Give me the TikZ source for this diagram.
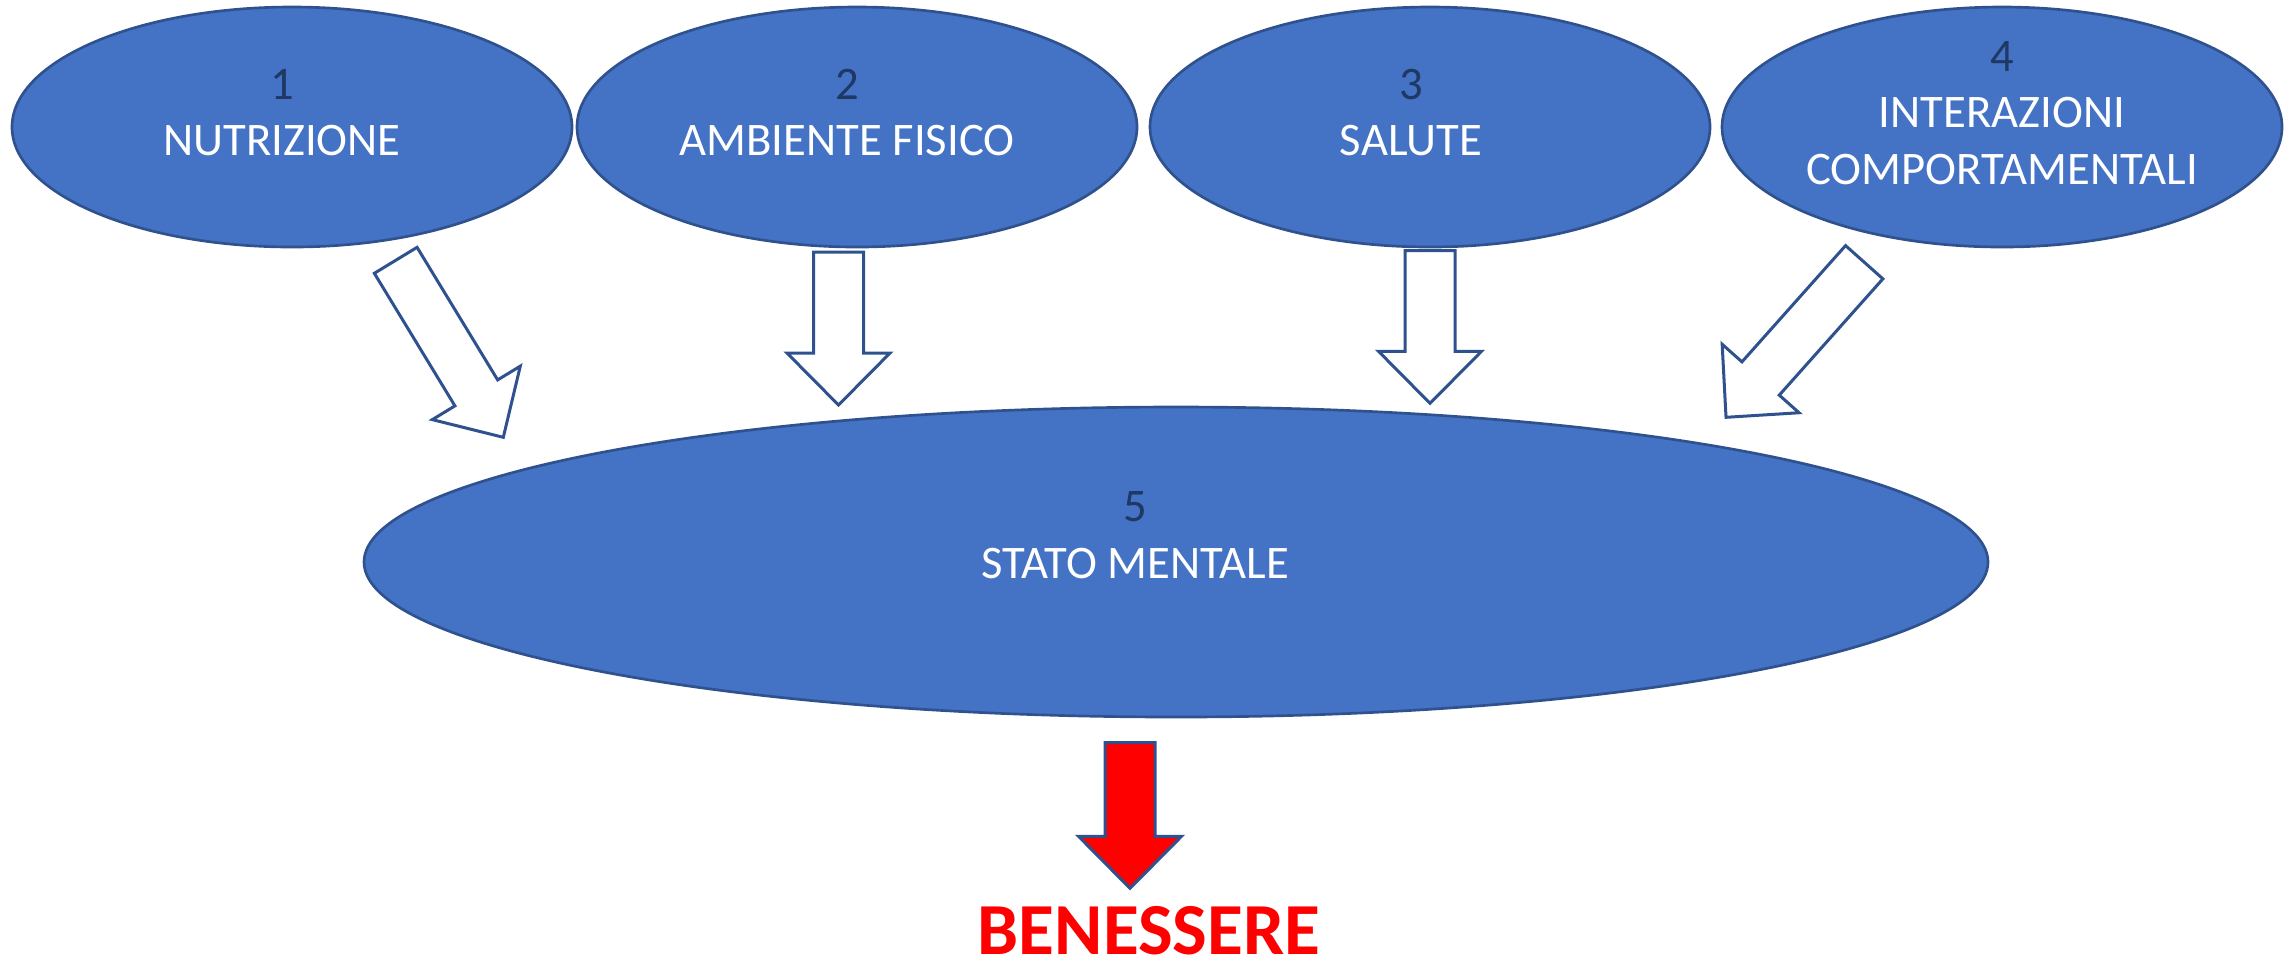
\documentclass[tikz,border=0pt]{standalone}
\usepackage{fontspec}
\setmainfont{Carlito}
\usetikzlibrary{shapes.geometric,calc}

\newcommand{\blockarrow}[3][white]{%
  \coordinate (head) at ($(#3)!15.6pt!(#2)$);
  \draw[block, fill=#1] ($(#2)!7.5pt!90:(#3)$) -- ($(head)!7.5pt!90:(#3)$)
    -- ($(head)!15.45pt!90:(#3)$) -- (#3) -- ($(head)!15.45pt!-90:(#3)$)
    -- ($(head)!7.5pt!-90:(#3)$) -- ($(#2)!7.5pt!-90:(#3)$) -- cycle;
}

\begin{document}
\begin{tikzpicture}[x=0.3pt, y=-0.3pt]
  \definecolor{ovalblue}{HTML}{4472C4}
  \definecolor{edgeblue}{HTML}{2F528F}
  \definecolor{numblue}{HTML}{1F3864}
  \tikzstyle{oval}=[ellipse, draw=edgeblue, fill=ovalblue, line width=0.8pt,
    inner sep=0pt, minimum width=168pt, minimum height=72pt]
  \tikzstyle{ovaltext}=[text=white, align=center, font=\fontsize{14}{17}\selectfont]
  \tikzstyle{block}=[draw=edgeblue, line width=0.9pt, line join=miter]

  \useasboundingbox (0,0) rectangle (2295,961);

  % the four factors
  \node[oval] (nutr) at (292,127) {};
  \node[oval] (amb) at (857,127) {};
  \node[oval] (sal) at (1430,127) {};
  \node[oval] (inter) at (2002,127) {};
  \node[ovaltext] (nutr-t) at (282,112.5) {\textcolor{numblue}{1}\\NUTRIZIONE};
  \node[ovaltext] (amb-t) at (847,112.5) {\textcolor{numblue}{2}\\AMBIENTE FISICO};
  \node[ovaltext] (sal-t) at (1411,112.5) {\textcolor{numblue}{3}\\SALUTE};
  \node[ovaltext] (inter-t) at (2002,113) {\textcolor{numblue}{4}\\INTERAZIONI\\COMPORTAMENTALI};

  % mental state
  \node[oval, minimum width=487.2pt, minimum height=93pt] (mente) at (1176,562) {};
  \node[ovaltext] (mente-t) at (1135,535) {\textcolor{numblue}{5}\\STATO MENTALE};

  \node[text=red, font=\fontsize{22}{26}\selectfont\bfseries, anchor=base, inner sep=0pt] (ben)
    at (1149,954) {BENESSERE};

  % arrows
  \coordinate (a1) at (395.7,260.3);  \coordinate (b1) at (503.3,437.3);
  \coordinate (a2) at (838.5,252);    \coordinate (b2) at (838.5,405);
  \coordinate (a3) at (1430,250.7);   \coordinate (b3) at (1430,403.3);
  \coordinate (a4) at (1864.2,262.2); \coordinate (b4) at (1726,417.3);
  \coordinate (a5) at (1130,742.7);   \coordinate (b5) at (1130,888.3);
  \blockarrow{a1}{b1}
  \blockarrow{a2}{b2}
  \blockarrow{a3}{b3}
  \blockarrow{a4}{b4}
  \blockarrow[red]{a5}{b5}
\end{tikzpicture}
\end{document}
